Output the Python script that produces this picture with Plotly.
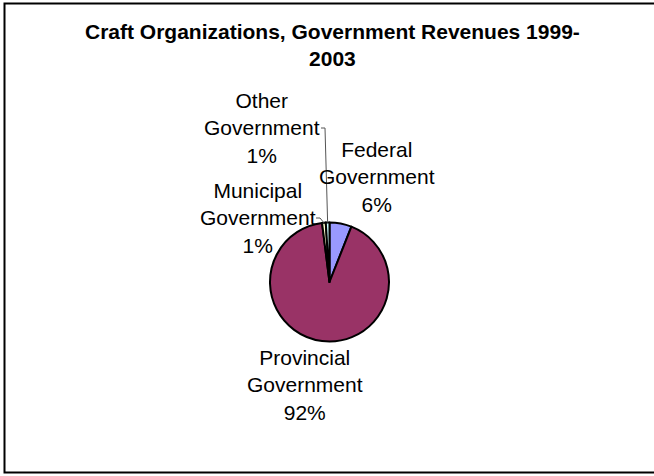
import math
import plotly.graph_objects as go

# Government revenue shares, craft organizations 1999-2003
names = ["Federal Government", "Provincial Government", "Municipal Government", "Other Government"]
short_names = ["Federal<br>Government", "Provincial<br>Government", "Municipal<br>Government", "Other<br>Government"]
shares = [6, 92, 1, 1]
colors = ["#9999FF", "#993366", "#FFFFCC", "#CCFFFF"]

W, H = 654, 476
FONT = "Liberation Sans, Arial, sans-serif"

# pie placement in pixels (from top-left)
cx, cy, r = 329.5, 282.0, 59.5

def px(x):
    return x / W

def py(y):
    return (H - y) / H

fig = go.Figure()
fig.add_trace(go.Pie(
    labels=names,
    values=shares,
    sort=False,
    direction="clockwise",
    rotation=0,
    marker=dict(colors=colors, line=dict(color="black", width=2)),
    textinfo="none",
    hoverinfo="label+percent",
    showlegend=False,
    domain=dict(x=[px(cx - r), px(cx + r)], y=[py(cy + r), py(cy - r)]),
))

# label centres (pixels) and whether a leader line is drawn
label_pos = [(377, 177, False), (305, 385, False), (258, 218, True), (262, 128, True)]
label_right = [None, None, 316, 321]

total = sum(shares)
pcts = [round(100 * v / total) for v in shares]

annotations = []
shapes = []
cum = 0
for i, name in enumerate(names):
    mid = (cum + shares[i] / 2) / total
    cum += shares[i]
    lx, ly, leader = label_pos[i]
    annotations.append(dict(
        x=px(lx), y=py(ly), xref="paper", yref="paper",
        text=f"{short_names[i]}<br>{pcts[i]}%", showarrow=False,
        xanchor="center", yanchor="middle", align="center",
        font=dict(family=FONT, size=21, color="black"),
    ))
    if leader:
        ang = 2 * math.pi * mid
        ax = cx + r * math.sin(ang)
        ay = cy - r * math.cos(ang)
        # line leaves the label at the baseline of its middle row
        sx = label_right[i]
        sy = ly
        path = (f"M {px(sx)} {py(sy)} L {px(sx + 4)} {py(sy)} "
                f"L {px(ax)} {py(ay)}")
        shapes.append(dict(type="path", path=path, xref="paper", yref="paper",
                           line=dict(color="#555555", width=1)))

annotations.append(dict(
    x=px(332), y=py(44.5), xref="paper", yref="paper",
    text="<b>Craft Organizations, Government Revenues 1999-<br>2003</b>",
    showarrow=False, xanchor="center", yanchor="middle", align="center",
    font=dict(family=FONT, size=21, color="black"),
))

# chart frame
shapes.append(dict(type="rect", xref="paper", yref="paper",
                   x0=px(4.5), x1=px(660), y0=py(472.5), y1=py(3.5),
                   line=dict(color="black", width=2), fillcolor="rgba(0,0,0,0)"))

fig.update_layout(
    width=W, height=H,
    margin=dict(l=0, r=0, t=0, b=0),
    paper_bgcolor="white", plot_bgcolor="white",
    annotations=annotations, shapes=shapes,
)

fig.write_html("out.html")
